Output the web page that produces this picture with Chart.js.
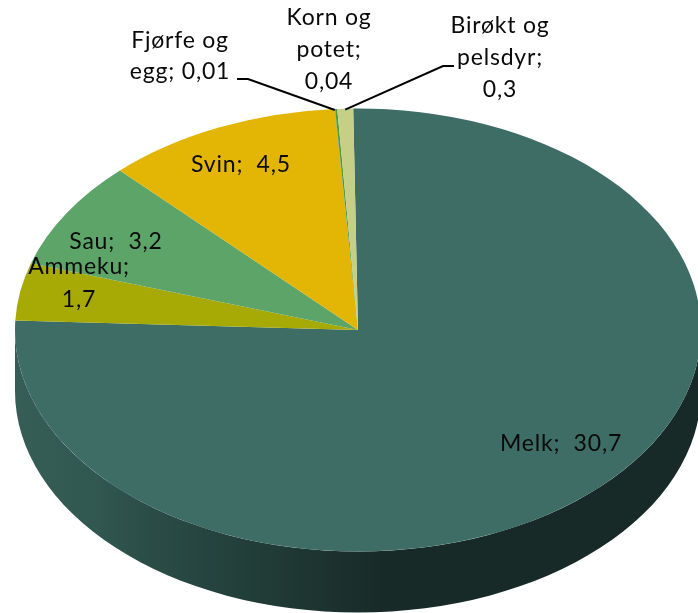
<!DOCTYPE html>
<html>
<head>
<meta charset="utf-8">
<style>html,body{margin:0;padding:0;background:#fff}canvas{display:block}</style>
<script src="https://cdn.jsdelivr.net/npm/chart.js@4/dist/chart.umd.js"></script>
</head>
<body>
<canvas id="c" width="698" height="613"></canvas>
<script>
const categories = ["Melk", "Ammeku", "Sau", "Svin", "Fjørfe og egg", "Korn og potet", "Birøkt og pelsdyr"];
const values = [30.7, 1.7, 3.2, 4.5, 0.01, 0.04, 0.3];
const sliceColors = ["#3e6d65", "#a7aa04", "#5da468", "#e3b505", "#7f9a2a", "#4e9a3c", "#c5cf85"];

// Label text (as wrapped in the picture) and its layout
const labelTexts = [
  ["Melk;  30,7"], ["Ammeku;", "1,7"], ["Sau;  3,2"], ["Svin;  4,5"],
  ["Fjørfe og", "egg; 0,01"], ["Korn og", "potet;", "0,04"], ["Birøkt og", "pelsdyr;", "0,3"]
];
const labelCentres = [[561, 444], [79, 283], [116, 242], [241, 165], [180, 56], [329, 50], [500, 58]];
const labelLineHeights = [0, 33, 0, 0, 31, 32, 32];
const leaderBends = { 4: [[248, 79], [237, 79]], 6: [[443, 66], [454, 66]] };

const tilt = 221.5 / 343;
const depth = 61;

const pie3d = {
  id: "pie3d",
  beforeDatasetsDraw(chart) {
    const ctx = chart.ctx;
    const arcs = chart.getDatasetMeta(0).data;
    const a0 = arcs[0];
    const g = ctx.createLinearGradient(a0.x - a0.outerRadius, 0, a0.x + a0.outerRadius, 0);
    g.addColorStop(0, "#365d56");
    g.addColorStop(0.12, "#305750");
    g.addColorStop(0.2, "#2b4c46");
    g.addColorStop(0.34, "#223e39");
    g.addColorStop(0.54, "#182a27");
    g.addColorStop(1, "#182a27");
    ctx.save();
    ctx.fillStyle = g;
    ctx.beginPath();
    ctx.ellipse(a0.x, a0.y, a0.outerRadius, a0.outerRadius * tilt, 0, 0, Math.PI, false);
    ctx.ellipse(a0.x, a0.y + depth, a0.outerRadius, a0.outerRadius * tilt, 0, Math.PI, 0, true);
    ctx.closePath();
    ctx.fill();
    ctx.restore();
    ctx.save();
    ctx.translate(0, a0.y);
    ctx.scale(1, tilt);
    ctx.translate(0, -a0.y);
  },
  afterDatasetsDraw(chart) {
    const ctx = chart.ctx;
    ctx.restore();
    const arcs = chart.getDatasetMeta(0).data;
    ctx.save();
    ctx.strokeStyle = "#000";
    ctx.lineWidth = 2;
    Object.keys(leaderBends).forEach(k => {
      const arc = arcs[k];
      const mid = (arc.startAngle + arc.endAngle) / 2;
      ctx.beginPath();
      ctx.moveTo(arc.x + arc.outerRadius * Math.cos(mid), arc.y + arc.outerRadius * tilt * Math.sin(mid) + 1);
      leaderBends[k].forEach(p => ctx.lineTo(p[0], p[1]));
      ctx.stroke();
    });
    ctx.fillStyle = "#0a0a0a";
    ctx.font = "23px Lato";
    ctx.letterSpacing = "0.8px";
    ctx.textAlign = "center";
    ctx.textBaseline = "middle";
    labelTexts.forEach((lines, i) => {
      const [cx, cy] = labelCentres[i];
      const lh = labelLineHeights[i];
      lines.forEach((t, j) => ctx.fillText(t, cx, cy + (j - (lines.length - 1) / 2) * lh));
    });
    ctx.restore();
  }
};

new Chart(document.getElementById("c"), {
  type: "pie",
  data: {
    labels: categories,
    datasets: [{
      data: values,
      backgroundColor: sliceColors,
      borderWidth: 0,
      radius: 343
    }]
  },
  options: {
    responsive: false,
    animation: false,
    rotation: -0.8,
    layout: { padding: { left: 18, top: 47, right: 0, bottom: 0 } },
    plugins: { legend: { display: false }, tooltip: { enabled: false }, title: { display: false } }
  },
  plugins: [pie3d]
});
</script>
</body>
</html>
